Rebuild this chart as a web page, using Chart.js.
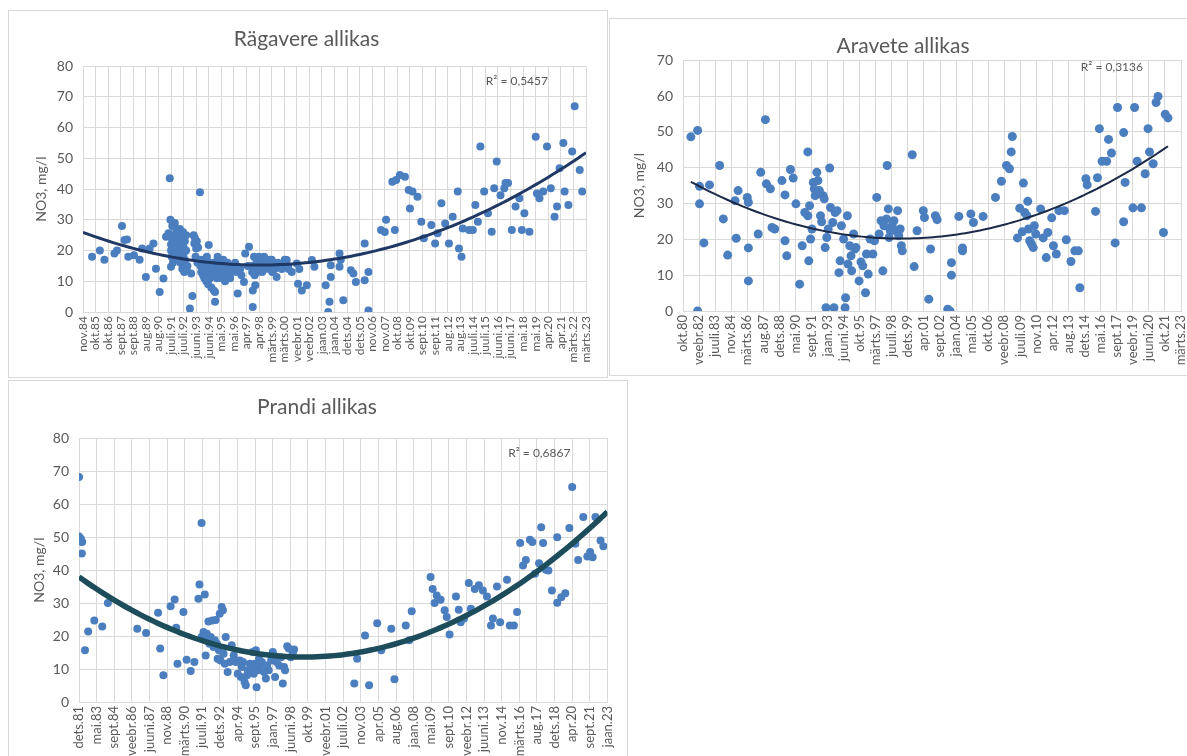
<!DOCTYPE html>
<html>
<head>
<meta charset="utf-8">
<script src="https://cdn.jsdelivr.net/npm/chart.js@4.4.1/dist/chart.umd.min.js"></script>
<style>
  html, body { margin: 0; padding: 0; background: #fff; }
  body { width: 1187px; height: 756px; overflow: hidden; position: relative; }
  .panel { position: absolute; background: #fff; border: 1px solid #d9d9d9; overflow: hidden; }
  .panel canvas { display: block; }
</style>
</head>
<body>
<div class="panel" style="left:8px;top:10px;width:598px;height:366px"><canvas id="ragavere" width="598" height="366"></canvas></div>
<div class="panel" style="left:609px;top:18px;width:638px;height:356px"><canvas id="aravete" width="638" height="356"></canvas></div>
<div class="panel" style="left:8px;top:380px;width:618px;height:398px"><canvas id="prandi" width="618" height="398"></canvas></div>
<script>
// ---------- Rägavere allikas ----------
const ragavereTicks = ['nov.84','okt.85','okt.86','sept.87','sept.88','aug.89','aug.90','juuli.91','juuli.92','juuni.93',
  'juuni.94','mai.95','mai.96','apr.97','apr.98','märts.99','märts.00','veebr.01','veebr.02','jaan.03',
  'jaan.04','dets.04','dets.05','nov.06','nov.07','okt.08','okt.09','sept.10','sept.11','aug.12',
  'aug.13','juuli.14','juuli.15','juuni.16','juuni.17','mai.18','mai.19','apr.20','apr.21','märts.22','märts.23'];
// sampling time, in steps of the axis labels
const ragavereT = [
  0.72,1.34,1.7,2.5,2.7,3.1,3.3,3.5,3.6,4.05,4.5,4.7,5.0,5.3,5.6,5.8,6.1,6.4,6.6,6.8,6.9,6.95,7.0,
  7.0,7.0,7.05,7.05,7.1,7.1,7.15,7.2,7.2,7.25,7.3,7.3,7.35,7.4,7.4,7.45,7.5,7.5,7.55,7.6,7.6,7.65,7.7,7.7,7.75,7.8,7.8,7.85,7.9,7.9,7.95,8.0,8.0,8.05,8.1,8.1,8.2,8.2,8.25,8.3,
  8.5,8.6,8.7,8.8,8.85,8.9,8.95,9.0,9.05,9.1,9.15,9.3,9.2,
  9.35,9.4,9.45,9.5,9.55,9.6,9.65,9.7,9.75,9.8,9.85,9.9,9.95,10.0,10.0,10.05,10.1,10.15,10.2,10.25,10.3,10.35,10.4,10.45,10.5,10.5,10.55,10.6,10.65,10.7,10.7,10.8,10.85,10.9,11.0,11.05,11.1,11.15,11.2,11.25,11.3,11.4,11.45,11.5,11.6,11.65,11.7,11.8,11.9,12.0,12.1,12.2,
  12.3,12.5,12.6,12.8,12.9,13.2,13.1,13.5,13.5,13.7,
  13.4,13.45,13.6,13.6,13.65,13.8,13.8,13.85,14.0,14.0,14.05,14.1,14.2,14.2,14.25,14.4,14.4,14.45,14.6,14.6,14.65,14.8,14.8,14.85,15.0,15.0,15.05,15.2,15.25,15.4,15.5,15.55,15.8,16.0,16.05,16.2,16.3,16.35,16.6,
  17.0,17.1,17.2,17.4,17.8,18.2,18.4,19.3,19.5,19.6,19.7,19.7,20.4,20.4,20.5,20.7,21.3,21.5,21.7,22.4,22.4,22.7,22.7,
  23.7,24.0,24.1,24.8,24.6,24.9,25.2,25.6,25.9,26.2,26.0,26.6,26.9,27.1,27.7,28.0,28.2,28.5,28.8,29.1,29.4,29.8,29.9,30.1,30.2,30.7,31.0,
  31.2,31.4,31.6,31.9,32.2,32.5,32.7,32.9,33.2,33.5,33.6,33.8,34.1,34.4,34.7,34.9,35.1,35.5,36.0,36.1,36.3,36.6,36.9,37.2,37.5,37.7,37.9,38.2,38.3,38.6,38.9,39.1,39.5,39.7
];
const ragavereNO3 = [
  18,20,17,19,20,28,23.4,23.6,18,18.5,17,20.7,11.4,20.7,22.3,14.1,6.5,10.9,24.5,25.6,43.5,30,14.7,
  20,22,24,18,28,21,16,23,25,19,29,22,20,27,24,18,26,21,23,17,19,25,27,22,16,20,24,18,22,14,26,19,21,13,23,17,25,20,13.6,15,
  1.1,12.5,5.2,25,22.3,24,18,20.7,23,16,21,39,17,
  15,13,17,14,12,16,11,13,15,10,18,14,9,21.8,12,16,11,13,8,15,12,14,7,16,6.5,3.3,13,15,11,18,17,12,14,16,13,11,15,17,12,14,10,15,13,16,14,12,11,13,15,14,16,13,
  6,14,12,9.8,19,21.2,15,1.6,7,8.7,
  15,13,18,14,12,16,17,13,15,18,14,16,17,15,13,16,18,14,15,17,16,14,16,17,15,17,13,16,14,11.4,16,15,14,16,17,16.9,15,14,13,
  15.8,9.2,14,7,8.7,16.9,14.7,8.7,0,3.3,11.4,15.2,14.7,19,17,3.8,13.6,12.5,9.8,22.3,10.3,13,0.5,
  26.7,26,30,26.7,42.4,43,44.6,44,39.7,39.2,33.7,37.5,29.4,24,28.3,22.3,25.6,35.4,28.8,22.3,31,39.2,20.7,18,27.2,26.7,26.7,
  34.8,29.4,53.9,39.2,32.1,26.1,40.3,49,38,40.3,42,42,26.7,34.3,37,26.7,32.1,26.1,57,38.6,37,39.2,53.9,40.3,31,34.3,46.8,55,39.2,34.8,52.2,67,46.2,39.2
];
const ragavereR2 = 'R\u00B2 = 0,5457';

// ---------- Aravete allikas ----------
const araveteTicks = ['okt.80','veebr.82','juuli.83','nov.84','märts.86','aug.87','dets.88','mai.90','sept.91','jaan.93',
  'juuni.94','okt.95','märts.97','juuli.98','dets.99','apr.01','sept.02','jaan.04','mai.05','okt.06',
  'veebr.08','juuli.09','nov.10','apr.12','aug.13','dets.14','mai.16','sept.17','veebr.19','juuni.20','okt.21','märts.23'];
const araveteT = [
  0.49,0.91,0.91,1.03,1.03,1.30,1.65,2.28,2.51,2.78,3.24,3.43,3.31,4.0,4.07,4.07,4.07,4.68,4.84,5.13,5.19,5.44,5.54,5.71,
  6.16,6.35,6.35,6.46,6.69,6.86,7.03,7.26,7.42,7.58,7.77,7.77,7.88,7.83,7.94,8.03,8.11,8.17,8.23,8.33,8.40,8.49,8.56,8.63,8.72,8.79,
  8.85,8.90,8.95,9.04,9.13,9.18,9.32,9.40,9.47,9.59,9.71,9.78,9.86,10.0,10.09,10.12,10.23,10.27,10.38,10.46,10.50,10.62,10.69,10.77,
  10.96,11.08,11.19,11.36,11.42,11.53,11.65,11.82,11.92,12.06,12.21,12.33,12.44,12.51,12.67,12.71,12.78,12.83,12.90,13.02,13.13,13.24,13.36,13.43,13.52,13.59,13.65,
  14.27,14.39,14.57,14.96,15.03,15.30,15.41,15.71,15.82,16.48,16.62,16.71,16.71,17.17,17.40,17.40,17.92,18.08,18.68,
  19.45,19.82,20.14,20.32,20.43,20.50,20.82,20.96,21.12,21.19,21.27,21.46,21.41,21.51,21.58,21.69,21.80,21.87,21.96,22.26,22.42,22.61,22.71,22.95,23.06,23.24,23.40,23.74,23.86,24.15,24.39,24.61,24.70,
  25.08,25.16,25.68,25.80,25.92,26.09,26.37,26.49,26.67,26.90,27.05,27.43,27.43,27.52,28.01,28.11,28.27,28.54,28.77,28.95,29.04,29.27,29.45,29.57,29.91,30.02,30.19
];
const araveteNO3 = [
  48.6,50.4,0,34.8,29.9,19,35.2,40.6,25.7,15.6,30.8,33.6,20.3,31.7,30.3,17.6,8.4,21.5,38.7,53.4,35.5,34.1,23.3,22.9,
  36.4,32.4,19.6,15.4,39.5,37.1,29.9,7.5,18.2,27.5,44.4,26.6,29.4,14,20.1,22.9,35.9,34.1,32.2,38.7,36.4,33.6,26.6,24.9,32.2,31.3,
  17.7,0.9,20.5,22.9,39.9,28.9,24.7,0.9,27.5,28,10.7,14,23.8,20.1,0.9,3.7,26.6,13.1,18.2,15.4,11.2,21.5,17.3,17.7,
  8.4,13.7,12.6,5.1,15.9,10.3,20.1,15.9,19.6,31.7,21.5,25.2,11.2,23.8,25.7,40.6,28.5,20.5,22.4,23.8,25.2,22.4,28,21,22.9,18.2,16.8,
  43.6,12.4,22.4,28,26.1,3.3,17.3,26.6,25.5,0.5,0,10,13.5,26.4,16.8,17.6,27.1,24.7,26.4,
  31.7,36.2,40.6,39.7,44.4,48.7,20.4,28.7,22.1,35.7,27.5,30.6,26.6,22.9,19.6,18.7,17.7,23.8,21.5,28.5,20.4,14.9,21.9,26,18.2,15.9,28,28,19.9,13.8,16.8,16.8,6.5,
  36.9,35.2,27.8,37.2,50.9,41.8,41.8,47.9,44.1,19,56.8,49.8,24.9,35.9,28.8,56.8,41.8,28.8,38.3,50.9,44.4,41.1,58.2,59.9,21.9,54.9,53.9
];
const araveteR2 = 'R\u00B2 = 0,3136';

// ---------- Prandi allikas ----------
const prandiTicks = ['dets.81','mai.83','sept.84','veebr.86','juuni.87','nov.88','märts.90','juuli.91','dets.92','apr.94',
  'sept.95','jaan.97','juuni.98','okt.99','veebr.01','juuli.02','nov.03','apr.05','aug.06','jaan.08',
  'mai.09','sept.10','veebr.12','juuni.13','nov.14','märts.16','aug.17','dets.18','apr.20','sept.21','jaan.23'];
const prandiT = [
  0,0,0.11,0.18,0.16,0.34,0.52,0.87,1.32,1.64,3.31,3.81,4.49,4.61,4.79,5.2,5.43,5.52,5.59,5.93,6.11,6.34,6.55,
  6.78,6.84,6.96,6.96,7.07,7.14,7.19,7.26,7.3,7.35,7.41,7.48,7.57,7.64,7.71,7.76,7.83,7.87,7.94,7.99,8.03,8.1,8.17,8.21,8.28,8.33,8.44,8.56,8.67,8.78,8.9,
  9.01,9.13,9.19,9.24,9.31,9.4,9.47,9.54,9.58,9.7,9.76,9.86,9.92,9.99,10.04,10.08,10.15,10.22,10.27,10.38,10.5,10.61,10.68,10.77,10.91,
  11.0,11.07,11.13,11.22,11.29,11.36,11.48,11.57,11.64,11.7,11.82,11.91,12.02,12.14,12.21,
  15.63,15.79,16.24,16.47,16.93,17.16,17.73,17.91,18.55,18.75,18.89,
  19.96,20.08,20.19,20.31,20.53,20.76,20.88,21.04,21.4,21.56,21.67,21.86,22.13,22.25,22.47,22.7,22.93,23.16,23.39,23.5,23.73,23.91,
  24.3,24.46,24.69,24.87,25.05,25.21,25.37,25.6,25.74,25.89,26.12,26.24,26.35,26.51,26.65,26.85,27.15,27.15,27.38,27.61,27.84,28.0,
  28.18,28.34,28.63,28.86,29.02,29.16,29.32,29.61,29.77
];
const prandiNO3 = [
  68.2,50.2,49.5,48.5,45,15.7,21.4,24.7,22.9,30,22.2,20.9,27.1,16.2,8.1,29,31.1,22.5,11.6,27.3,12.8,9.4,12.1,
  31.3,35.6,54.3,19.7,21.2,32.6,14.1,20.7,18.7,24.4,17.7,19.7,24.7,16.7,18.7,24.9,17.7,13.1,15.7,26.8,12.6,28.8,27.8,14.6,11.6,19.7,9.1,12.1,17.2,14.1,12.1,
  8.6,12.6,7.6,10.6,12.1,6.1,5.1,8.1,9.6,11.6,10.1,15.2,8.6,11.6,15.7,4.5,9.6,13.1,10.6,12.1,9.1,7.1,11.1,9.6,12.6,
  15.2,14.1,7.6,12.1,13.6,11.1,13.6,5.6,10.6,9.6,16.9,16.2,13.6,14.6,15.9,
  5.6,13.1,20.2,5.1,23.9,15.7,22.2,6.9,23.2,18.7,27.5,
  37.9,34.3,30,32.3,31,27.8,25.8,20.5,32,28,24.2,25.3,36.1,28.3,34.3,35.4,33.8,32,23.2,25.3,35,24.2,
  37.1,23.2,23.2,27.3,48.2,41.4,43.1,49.2,48.5,38.9,42.1,53,48.2,40.1,39.9,33.8,50,30.1,31.8,33,52.8,65.2,
  48,43.1,56.1,44.1,45.5,43.9,56.1,49,47.2
];
const prandiR2 = 'R\u00B2 = 0,6867';

// ---------- drawing ----------
const FONT = 'Lato, "Open Sans", sans-serif';
const TEXT = '#595959';
const GRID = '#d9d9d9';
const DOT = '#4a7ebf';

// second-order least-squares trend, as a spreadsheet polynomial trendline
function quadFit(xs, ys) {
  const S = [0, 0, 0, 0, 0], T = [0, 0, 0];
  xs.forEach((x, i) => {
    let p = 1;
    for (let k = 0; k < 5; k++) { S[k] += p; if (k < 3) T[k] += p * ys[i]; p *= x; }
  });
  const M = [[S[0], S[1], S[2], T[0]], [S[1], S[2], S[3], T[1]], [S[2], S[3], S[4], T[2]]];
  for (let c = 0; c < 3; c++)
    for (let r = c + 1; r < 3; r++) {
      const f = M[r][c] / M[c][c];
      for (let k = c; k < 4; k++) M[r][k] -= f * M[c][k];
    }
  const b = [0, 0, 0];
  for (let r = 2; r >= 0; r--) {
    let s = M[r][3];
    for (let k = r + 1; k < 3; k++) s -= M[r][k] * b[k];
    b[r] = s / M[r][r];
  }
  return b;
}

const r2Label = {
  id: 'r2Label',
  afterDatasetsDraw(chart, args, o) {
    const { ctx, chartArea: a } = chart;
    ctx.save();
    ctx.font = `12px ${FONT}`;
    ctx.fillStyle = TEXT;
    ctx.textAlign = 'right';
    ctx.textBaseline = 'middle';
    ctx.fillText(o.text, a.right - o.dx, a.top + o.dy);
    ctx.restore();
  }
};

function drawSpring(id, c) {
  const pts = c.t.map((t, i) => ({ x: c.t[i], y: c.v[i] }));
  const [a0, a1, a2] = quadFit(c.t, c.v);
  const from = c.trendFrom != null ? c.trendFrom : Math.min(...c.t);
  const to = c.trendTo != null ? c.trendTo : Math.max(...c.t);
  const trend = [];
  for (let k = 0; k <= 120; k++) {
    const x = from + (to - from) * k / 120;
    trend.push({ x, y: a0 + a1 * x + a2 * x * x });
  }
  new Chart(document.getElementById(id), {
    type: 'scatter',
    data: {
      datasets: [
        { type: 'line', data: trend, borderColor: c.trendColor, borderWidth: c.trendWidth,
          pointRadius: 0, fill: false, tension: 0, order: 0 },
        { data: pts, backgroundColor: DOT, borderColor: DOT, borderWidth: 0,
          pointRadius: c.dot, order: 1 }
      ]
    },
    options: {
      responsive: false, animation: false, events: [],
      layout: { padding: { left: c.padLeft, right: c.padRight, top: 0, bottom: 0 } },
      plugins: {
        legend: { display: false },
        tooltip: { enabled: false },
        title: { display: true, text: c.title, color: TEXT,
          font: { family: FONT, size: 21, weight: 'normal' },
          padding: { top: c.titleTop, bottom: c.titleBottom } },
        r2Label: { text: c.r2, dx: c.r2dx, dy: c.r2dy }
      },
      scales: {
        x: {
          type: 'linear', min: 0, max: c.ticks.length - 1,
          afterBuildTicks: s => { s.ticks = c.ticks.map((_, i) => ({ value: i })); },
          afterFit: s => { s.height = c.xHeight; },
          ticks: { autoSkip: false, minRotation: 90, maxRotation: 90, padding: 4, color: TEXT,
            font: { family: FONT, size: c.xFont }, callback: (v, i) => c.ticks[i] },
          grid: { color: GRID, drawTicks: false },
          border: { color: GRID }
        },
        y: {
          min: 0, max: c.yMax,
          afterFit: s => { s.width = c.yWidth; },
          ticks: { stepSize: 10, padding: 10, color: TEXT, font: { family: FONT, size: 14 } },
          grid: { color: GRID, drawTicks: false },
          border: { display: false },
          title: { display: true, text: 'NO3, mg/l', color: TEXT,
            font: { family: FONT, size: 14 }, padding: { top: 6, bottom: 0 } }
        }
      }
    },
    plugins: [r2Label]
  });
}

drawSpring('ragavere', {
  title: 'Rägavere allikas', ticks: ragavereTicks, t: ragavereT, v: ragavereNO3, r2: ragavereR2,
  yMax: 80, dot: 4, trendColor: '#1f3864', trendWidth: 3, trendFrom: 0, trendTo: 40,
  padLeft: 18, padRight: 21, yWidth: 56, xHeight: 65, titleTop: 16, titleBottom: 14, xFont: 12,
  r2dx: 38, r2dy: 15
});
drawSpring('aravete', {
  title: 'Aravete allikas', ticks: araveteTicks, t: araveteT, v: araveteNO3, r2: araveteR2,
  yMax: 70, dot: 4.5, trendColor: '#1c2a48', trendWidth: 2,
  padLeft: 15, padRight: 67, yWidth: 58, xHeight: 64, titleTop: 15, titleBottom: 1, xFont: 13,
  r2dx: 38, r2dy: 7
});
drawSpring('prandi', {
  title: 'Prandi allikas', ticks: prandiTicks, t: prandiT, v: prandiNO3, r2: prandiR2,
  yMax: 80, dot: 4, trendColor: '#1d4d5a', trendWidth: 5.5, trendFrom: 0, trendTo: 30,
  padLeft: 16, padRight: 18, yWidth: 54, xHeight: 77, titleTop: 14, titleBottom: 18, xFont: 13,
  r2dx: 37, r2dy: 15
});
</script>
</body>
</html>
